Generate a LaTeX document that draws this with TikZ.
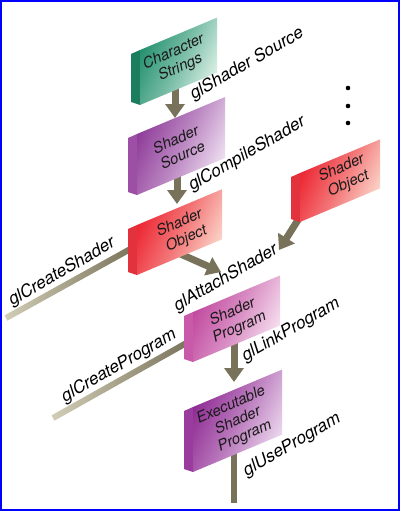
\documentclass[tikz,border=0pt]{standalone}
\usepackage{fontspec}
\newfontfamily\hvfont{TeX Gyre Heros}
\usetikzlibrary{arrows.meta,calc}
\definecolor{gD}{HTML}{23906E}\definecolor{gL}{HTML}{DDF1E8}\definecolor{gS}{HTML}{1C7C5E}
\definecolor{pD}{HTML}{8E3A98}\definecolor{pL}{HTML}{F0E2F3}\definecolor{pS}{HTML}{9C4FA5}
\definecolor{rD}{HTML}{EC2330}\definecolor{rL}{HTML}{FBD8CC}\definecolor{rS}{HTML}{E2323D}
\definecolor{mD}{HTML}{C0479E}\definecolor{mL}{HTML}{F7E2F1}\definecolor{mS}{HTML}{C95AA9}
\definecolor{eD}{HTML}{8F2A93}\definecolor{eL}{HTML}{EDDAEF}\definecolor{eS}{HTML}{9A3C9E}
\definecolor{arrowc}{HTML}{78725A}
\definecolor{linelight}{HTML}{D2CDB6}
\definecolor{inkc}{HTML}{1A1A1A}
\newcommand\slabbox[7]{%
  \fill[#7] ({#1-9},{#2+4}) -- (#1,#2) -- (#1,{#2+#4}) -- ({#1-9},{#2+#4-3}) -- cycle;
  \shade[left color=#5, right color=#6, middle color=#5!55!#6, shading angle=65] (#1,#2) -- ({#1+#3},{#2-0.42*#3}) -- ({#1+#3},{#2-0.42*#3+#4}) -- (#1,{#2+#4}) -- cycle;
}
\newcommand\fadebar[2]{%
  \shade[left color=linelight, right color=arrowc]
    ($(#1)!3pt!90:(#2)$) -- ($(#2)!3pt!-90:(#1)$) -- ($(#2)!3pt!90:(#1)$) -- ($(#1)!3pt!-90:(#2)$) -- cycle;
}
\tikzset{
  flow/.style={line width=7pt, draw=arrowc, -{Triangle[width=19pt,length=14pt]}},
  cline/.style={line width=6pt, draw=arrowc},
  boxtext/.style={font=\hvfont\itshape\fontsize{15}{17}\selectfont, text=inkc, rotate=24, align=center, inner sep=0pt},
  fname/.style={font=\hvfont\itshape\fontsize{17.2}{20}\selectfont, text=black, rotate=30, inner sep=0pt},
  dotmark/.style={circle, fill=black, inner sep=0pt, minimum size=4.6pt}
}
\begin{document}
\begin{tikzpicture}[x=1pt,y=-1pt]
\useasboundingbox (0,0) rectangle (400,511);
\fill[white] (0,0) rectangle (400,511);
% connector end points
\coordinate (a1s) at (175,85);  \coordinate (a1e) at (175,118);
\coordinate (a2s) at (177,170); \coordinate (a2e) at (177,204);
\coordinate (a3s) at (303,212); \coordinate (a3e) at (279,250);
\coordinate (a4s) at (176,252); \coordinate (a4e) at (221,272);
\coordinate (a5s) at (234,340); \coordinate (a5e) at (234,382);
\coordinate (csA) at (6,318);   \coordinate (csB) at (134,247);
\coordinate (cpA) at (53,418);  \coordinate (cpB) at (190,341);
\coordinate (upA) at (234,445); \coordinate (upB) at (234,503);
% connectors
\fadebar{csA}{csB}
\fadebar{cpA}{cpB}
\draw[cline] (upA) -- (upB);
\draw[flow] (a1s) -- (a1e);
\draw[flow] (a2s) -- (a2e);
\draw[flow] (a3s) -- (a3e);
\draw[flow] (a4s) -- (a4e);
\draw[flow] (a5s) -- (a5e);
% slabs
\slabbox{140}{50}{77}{55}{gD}{gL}{gS}
\slabbox{137}{134}{88}{61}{pD}{pL}{pS}
\slabbox{137}{225}{85}{50}{rD}{rL}{rS}
\slabbox{300}{173}{80}{49}{rD}{rL}{rS}
\slabbox{193}{312}{87}{50}{mD}{mL}{mS}
\slabbox{193}{407}{89}{65}{eD}{eL}{eS}
% box texts
\node[boxtext] (cs) at (177,60) {Character\\Strings};
\node[boxtext] (ss) at (179,147) {Shader\\Source};
\node[boxtext] (so) at (183,231) {Shader\\Object};
\node[boxtext] (so2) at (345,176) {Shader\\Object};
\node[boxtext] (sp) at (236,320) {Shader\\Program};
\node[boxtext] (esp) at (238,421) {Executable\\Shader\\Program};
% labels
\node[fname] (l1) at (247,64) {glShader Source};
\node[fname] (l2) at (247,154) {glCompileShader};
\node[fname] (l3) at (62,272) {glCreateShader};
\node[fname] (l4) at (226,278) {glAttachShader};
\node[fname] (l5) at (291,330) {glLinkProgram};
\node[fname] (l6) at (119,366) {glCreateProgram};
\node[fname] (l7) at (292,445) {glUseProgram};
% dots
\node[dotmark] (d1) at (348,88) {};
\node[dotmark] (d2) at (348,106) {};
\node[dotmark] (d3) at (348,123) {};
% frame
\draw[blue, line width=2.2pt] (1.1,1.1) rectangle (398.9,509.9);
\end{tikzpicture}
\end{document}
